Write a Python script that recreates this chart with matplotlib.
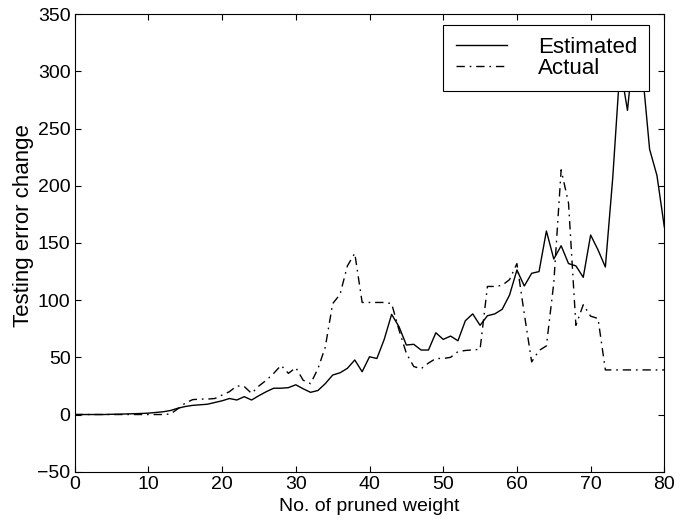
import matplotlib
matplotlib.use("Agg")
import matplotlib.pyplot as plt
import numpy as np

plt.rcParams['font.family'] = ['Liberation Sans', 'DejaVu Sans']

x_values = list(range(0, 81))

estimated = [0, 0, 0, 0, 0, 0.2, 0.3, 0.5, 0.7, 0.9,
             1.2, 1.8, 2.4, 3.5, 5.5, 7, 8, 8.5, 9, 10.5,
             12, 14, 12.7, 15.6, 12.7, 16.5, 20, 23, 23, 23.5,
             26, 22.5, 19.4, 21, 27, 34.5, 36.5, 40.4, 47.7, 37.4,
             50.5, 49, 65.8, 87.6, 76.8, 60.8, 61.4, 56.4, 56.4, 71.5,
             65.7, 68.6, 64.5, 82, 88, 78, 86.4, 88, 92, 104.5,
             126.4, 112.4, 123.5, 125, 160.5, 136, 147.6, 132, 130, 120,
             157, 144, 129, 207, 305, 266, 330, 302, 232, 209,
             164]

actual = [0, 0, 0, 0, 0, 0, 0, 0, 0, 0,
          0, 0, 0, 0.5, 5, 10, 13, 13.5, 13.5, 14,
          17, 20, 25, 24.5, 18.5, 25, 30, 36, 43, 36,
          41, 30, 27, 40, 59, 97, 105, 130, 141, 98,
          98, 98, 98, 97, 74, 53.5, 42, 40, 45, 49,
          49, 50, 55, 56, 56.5, 57, 112, 112, 113, 118,
          132, 88, 46, 56, 60, 115, 214, 185, 78, 96,
          86, 84, 39, 39, 39, 39, 39, 39, 39, 39,
          39]

series_labels = ["Estimated", "Actual"]
x_ticks = [0, 10, 20, 30, 40, 50, 60, 70, 80]
y_ticks = [-50, 0, 50, 100, 150, 200, 250, 300, 350]

fig = plt.figure(figsize=(6.89, 5.20), dpi=100)
ax = fig.add_axes([0.1084, 0.0929, 0.9642 - 0.1084, 0.9725 - 0.0929])

ax.plot(x_values, estimated, color='black', linewidth=1.0, linestyle='-',
        label=series_labels[0])
ax.plot(x_values, actual, color='black', linewidth=1.0,
        linestyle=(0, (6, 3.5, 1.2, 3.5)), label=series_labels[1])

ax.set_xlim(0, 80)
ax.set_ylim(-50, 350)
ax.set_xticks(x_ticks)
ax.set_yticks(y_ticks)
ax.tick_params(direction='in', top=True, right=True, length=4, width=0.8,
               labelsize=14, pad=3)
for s in ax.spines.values():
    s.set_linewidth(0.8)
    s.set_color('black')

ax.set_xlabel("No. of pruned weight", fontsize=14, labelpad=4)
ax.set_ylabel("Testing error change", fontsize=16)
ax.yaxis.set_label_coords(-0.069, 0.539)

leg = ax.legend(loc='upper right', fontsize=16, frameon=True, fancybox=False,
                edgecolor='black', framealpha=1.0, handlelength=2.3,
                borderpad=0.55, labelspacing=0.0, handletextpad=1.4,
                borderaxespad=0.0, bbox_to_anchor=(0.9746, 0.9766))
leg.get_frame().set_linewidth(0.8)

fig.savefig("out.png", dpi=100)
